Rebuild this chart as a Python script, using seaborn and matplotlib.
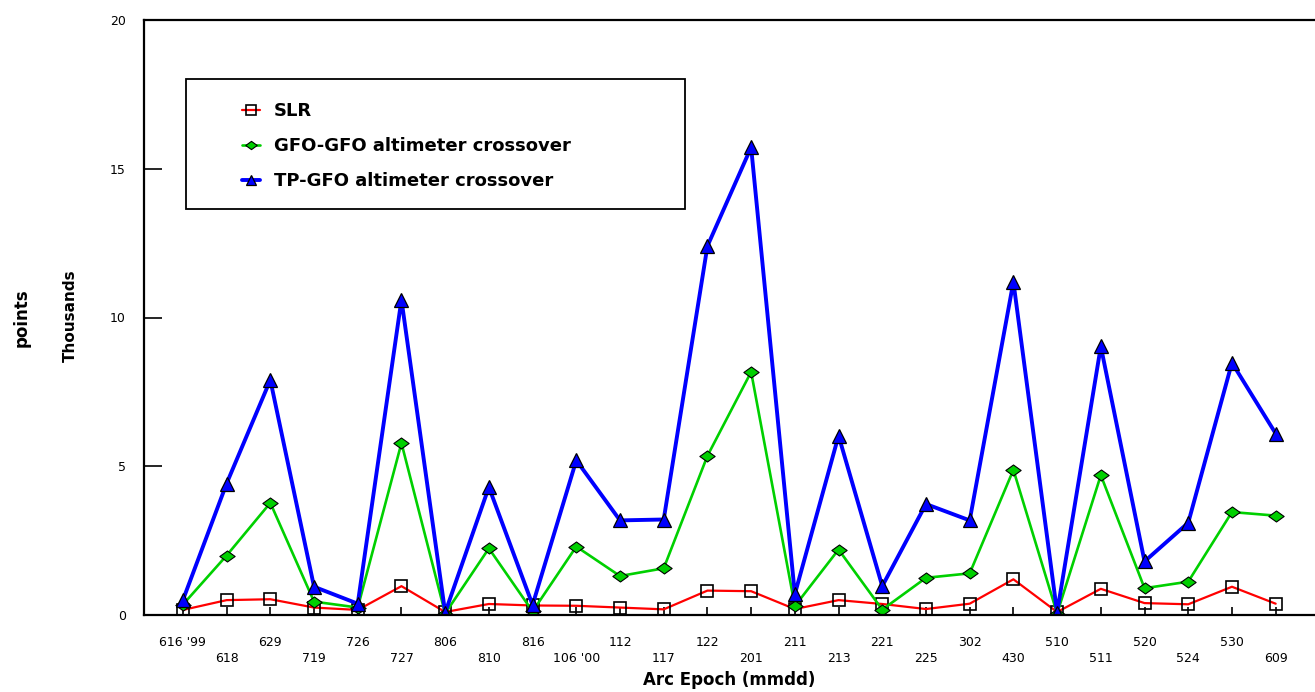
import matplotlib
matplotlib.use("Agg")
import matplotlib.pyplot as plt
import matplotlib.patches as mpatches
from matplotlib.path import Path
import numpy as np
import seaborn as sns

categories = ["616 '99", "618", "629", "719", "726", "727", "806", "810", "816",
              "106 '00", "112", "117", "122", "201", "211", "213", "221", "225",
              "302", "430", "510", "511", "520", "524", "530", "609"]
slr = [0.17, 0.5, 0.53, 0.25, 0.17, 0.97, 0.1, 0.37, 0.32, 0.31, 0.25, 0.19,
       0.82, 0.8, 0.2, 0.5, 0.37, 0.2, 0.38, 1.2, 0.1, 0.88, 0.4, 0.36, 0.95, 0.38]
gfo_gfo = [0.35, 2.0, 3.77, 0.45, 0.25, 5.78, 0.05, 2.24, 0.12, 2.3, 1.31, 1.57,
           5.35, 8.17, 0.3, 2.2, 0.18, 1.25, 1.4, 4.88, 0.05, 4.7, 0.9, 1.12, 3.46, 3.34]
tp_gfo = [0.5, 4.42, 7.9, 0.95, 0.38, 10.6, 0.08, 4.3, 0.34, 5.2, 3.18, 3.21,
          12.4, 15.72, 0.7, 6.03, 0.97, 3.73, 3.18, 11.2, 0.08, 9.03, 1.8, 3.1, 8.48, 6.1]
series_names = ["SLR", "GFO-GFO altimeter crossover", "TP-GFO altimeter crossover"]
y_ticks = [0, 5, 10, 15, 20]

sns.set_style("white")
plt.rcParams["font.family"] = ["DejaVu Sans"]
plt.rcParams["text.color"] = "black"
plt.rcParams["axes.labelcolor"] = "black"

W, H = 1315, 692
fig = plt.figure(figsize=(W / 100, H / 100), dpi=100)
ax = fig.add_axes([144 / W, 1 - 615 / H, 1 - 144 / W, 595 / H])

x = np.arange(len(categories))
diamond = Path([(-1, 0), (0, 0.72), (1, 0), (0, -0.72), (-1, 0)],
               [Path.MOVETO, Path.LINETO, Path.LINETO, Path.LINETO, Path.CLOSEPOLY])

sns.lineplot(x=x, y=slr, ax=ax, color="#ff0000", linewidth=1.6, marker="s",
             markersize=9, markerfacecolor="none", markeredgecolor="black",
             markeredgewidth=1.2, label=series_names[0])
sns.lineplot(x=x, y=gfo_gfo, ax=ax, color="#00d000", linewidth=1.9, marker=diamond,
             markersize=11, markerfacecolor="#00d000", markeredgecolor="black",
             markeredgewidth=0.8, label=series_names[1])
sns.lineplot(x=x, y=tp_gfo, ax=ax, color="#0000ff", linewidth=2.8, marker="^",
             markersize=10.5, markerfacecolor="#0000ff", markeredgecolor="black",
             markeredgewidth=0.9, label=series_names[2])

ax.set_xlim(-0.89, 25.9)
ax.set_ylim(0, 20)
ax.set_xticks(x)
ax.set_xticklabels(categories, fontsize=9)
ax.set_yticks(y_ticks)
ax.set_yticklabels([str(v) for v in y_ticks], fontsize=9)

for side in ["left", "bottom", "top"]:
    ax.spines[side].set_visible(True)
    ax.spines[side].set_color("black")
    ax.spines[side].set_linewidth(1.6)
ax.spines["right"].set_visible(False)

ax.tick_params(axis="x", direction="in", length=6, width=1.2, pad=15,
               bottom=True, top=False, colors="black")
ax.tick_params(axis="y", direction="in", length=13, width=1.2, pad=13,
               left=True, right=False, colors="black")
for i, t in enumerate(ax.xaxis.get_major_ticks()):
    t.set_pad(15 if i % 2 == 0 else 26.5)

ax.set_xlabel("Arc Epoch (mmdd)", fontsize=12, fontweight="bold", color="black")
ax.xaxis.set_label_coords(0.5, -0.094)
ax.set_ylabel("")

fig.text(22 / W, 1 - 318 / H, "points", rotation=90, ha="center", va="center",
         fontsize=12, fontweight="bold", color="black")
fig.text(70 / W, 1 - 316 / H, "Thousands", rotation=90, ha="center", va="center",
         fontsize=11, fontweight="bold", color="black")

# legend box
rect = mpatches.Rectangle((186 / W, 1 - 209 / H), 499 / W, 130 / H,
                          transform=fig.transFigure, facecolor="white",
                          edgecolor="black", linewidth=1.3, zorder=5, clip_on=False)
ax.add_patch(rect)
leg = ax.legend(loc="center left", bbox_to_anchor=(233 / W, 1 - 146 / H),
                bbox_transform=fig.transFigure, frameon=False, borderpad=0,
                handlelength=1.0, handletextpad=0.75, labelspacing=0.95,
                markerscale=0.75, prop={"weight": "bold", "size": 13})
leg.set_zorder(6)
for txt in leg.get_texts():
    txt.set_color("black")

fig.savefig("out.png", dpi=100)
